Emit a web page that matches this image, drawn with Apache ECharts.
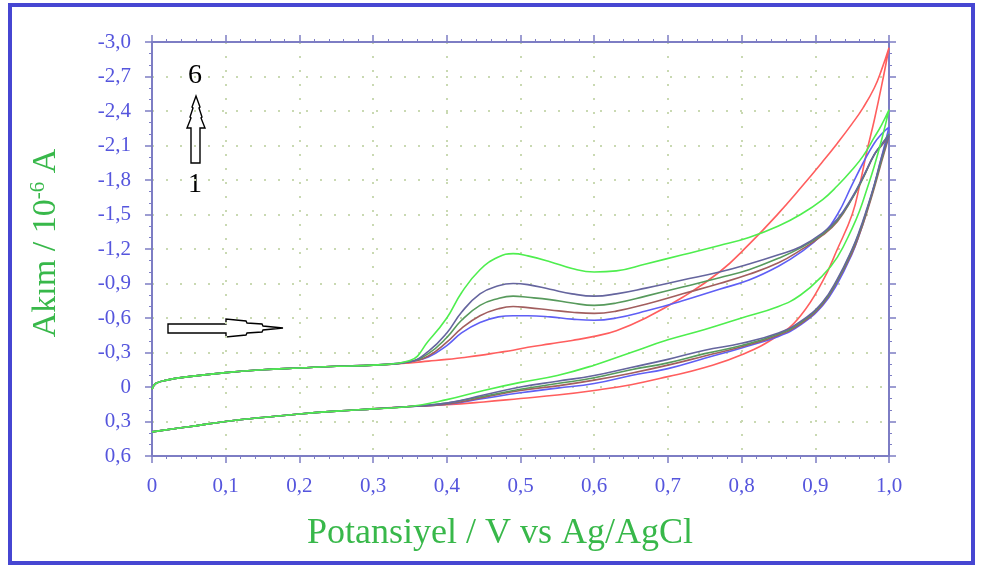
<!DOCTYPE html>
<html>
<head>
<meta charset="utf-8">
<script src="https://cdn.jsdelivr.net/npm/echarts@6/dist/echarts.min.js"></script>
<style>html,body{margin:0;padding:0;background:#fff}#c{width:981px;height:570px}</style>
</head>
<body>
<div id="c"></div>
<script>
// Potential grids (V vs Ag/AgCl)
const vBaseFwd = [0, 0.005, 0.02, 0.05, 0.1, 0.15, 0.2, 0.25, 0.3];
const vFwd = [0.35, 0.375, 0.4, 0.42, 0.445, 0.47, 0.49, 0.51, 0.54, 0.57, 0.6, 0.63, 0.67, 0.72, 0.77, 0.81, 0.85, 0.88, 0.91, 0.93, 0.95, 0.965, 0.98, 0.99, 1.0];
const vRev = [1.0, 0.99, 0.98, 0.97, 0.96, 0.95, 0.93, 0.91, 0.88, 0.85, 0.8, 0.75, 0.7, 0.65, 0.6, 0.55, 0.5, 0.45, 0.4];
const vBaseRev = [0.35, 0.3, 0.25, 0.2, 0.15, 0.1, 0.05, 0];

// Shared current segments (10^-6 A)
const iBaseFwd = [0.02, -0.03, -0.06, -0.09, -0.125, -0.15, -0.165, -0.18, -0.19];
const iBaseRev = [0.17, 0.19, 0.21, 0.235, 0.265, 0.30, 0.345, 0.39];

// Cycle 1 (red)
const red1Fwd = [-0.21, -0.225, -0.24, -0.255, -0.275, -0.30, -0.32, -0.345, -0.375, -0.405, -0.44, -0.49, -0.60, -0.78, -1.0, -1.24, -1.51, -1.73, -1.96, -2.12, -2.29, -2.43, -2.6, -2.76, -2.95];
const red1Rev = [-2.95, -2.62, -2.32, -2.05, -1.75, -1.5, -1.2, -0.92, -0.62, -0.45, -0.28, -0.17, -0.09, -0.02, 0.03, 0.07, 0.10, 0.13, 0.155];
// Cycle 2 (blue)
const blue2Fwd = [-0.22, -0.26, -0.36, -0.47, -0.56, -0.61, -0.62, -0.62, -0.61, -0.59, -0.58, -0.60, -0.66, -0.75, -0.85, -0.93, -1.05, -1.17, -1.33, -1.50, -1.76, -1.95, -2.12, -2.20, -2.26];
const blue2Rev = [-2.26, -2.0, -1.75, -1.53, -1.33, -1.16, -0.90, -0.71, -0.54, -0.44, -0.34, -0.25, -0.16, -0.10, -0.03, 0.01, 0.05, 0.10, 0.15];
// Cycle 3 (brown)
const brown3Fwd = [-0.22, -0.27, -0.39, -0.51, -0.62, -0.68, -0.70, -0.69, -0.67, -0.65, -0.64, -0.66, -0.72, -0.81, -0.90, -0.98, -1.08, -1.19, -1.32, -1.44, -1.64, -1.82, -2.02, -2.10, -2.18];
const brown3Rev = [-2.18, -1.96, -1.73, -1.52, -1.33, -1.17, -0.92, -0.72, -0.55, -0.45, -0.35, -0.27, -0.19, -0.12, -0.06, -0.01, 0.03, 0.09, 0.15];
// Cycle 4 (dark green)
const dkgreen4Fwd = [-0.22, -0.29, -0.43, -0.58, -0.71, -0.77, -0.79, -0.78, -0.76, -0.73, -0.71, -0.73, -0.79, -0.87, -0.95, -1.02, -1.12, -1.21, -1.33, -1.45, -1.64, -1.82, -2.02, -2.11, -2.20];
const dkgreen4Rev = [-2.20, -1.98, -1.75, -1.54, -1.35, -1.19, -0.93, -0.73, -0.56, -0.46, -0.36, -0.29, -0.21, -0.15, -0.08, -0.03, 0.02, 0.08, 0.14];
// Cycle 5 (purple)
const purple5Fwd = [-0.22, -0.31, -0.47, -0.65, -0.81, -0.88, -0.90, -0.89, -0.85, -0.81, -0.79, -0.81, -0.86, -0.93, -1.0, -1.07, -1.15, -1.22, -1.34, -1.46, -1.65, -1.83, -2.02, -2.11, -2.19];
const purple5Rev = [-2.19, -2.0, -1.76, -1.55, -1.36, -1.2, -0.94, -0.74, -0.57, -0.47, -0.38, -0.32, -0.24, -0.17, -0.10, -0.05, 0.0, 0.07, 0.14];
// Cycle 6 (bright green)
const green6Fwd = [-0.23, -0.40, -0.60, -0.82, -1.02, -1.13, -1.16, -1.14, -1.09, -1.03, -1.0, -1.01, -1.07, -1.15, -1.23, -1.30, -1.40, -1.50, -1.63, -1.75, -1.89, -2.01, -2.17, -2.28, -2.41];
const green6Rev = [-2.41, -2.15, -1.92, -1.72, -1.53, -1.38, -1.13, -0.97, -0.80, -0.70, -0.60, -0.50, -0.41, -0.30, -0.19, -0.10, -0.04, 0.03, 0.11];

const xTicks = [0, 0.1, 0.2, 0.3, 0.4, 0.5, 0.6, 0.7, 0.8, 0.9, 1.0];
const yTicks = [-3.0, -2.7, -2.4, -2.1, -1.8, -1.5, -1.2, -0.9, -0.6, -0.3, 0, 0.3, 0.6];

function loop(fwd, rev) {
  const pts = [];
  vBaseFwd.forEach((v, i) => pts.push([v, iBaseFwd[i]]));
  vFwd.forEach((v, i) => pts.push([v, fwd[i]]));
  vRev.forEach((v, i) => pts.push([v, rev[i]]));
  vBaseRev.forEach((v, i) => pts.push([v, iBaseRev[i]]));
  return pts;
}

const curves = [
  {name: '1', fwd: red1Fwd, rev: red1Rev, color: '#ff5e5e'},
  {name: '2', fwd: blue2Fwd, rev: blue2Rev, color: '#5f5ff5'},
  {name: '3', fwd: brown3Fwd, rev: brown3Rev, color: '#a25e5e'},
  {name: '4', fwd: dkgreen4Fwd, rev: dkgreen4Rev, color: '#579a5c'},
  {name: '5', fwd: purple5Fwd, rev: purple5Rev, color: '#65659e'},
  {name: '6', fwd: green6Fwd, rev: green6Rev, color: '#4eee4e'}
];

const fmt = v => {
  const r = Math.round(v * 10) / 10;
  if (r === 0) return '0';
  return r.toFixed(1).replace('.', ',');
};

const axisColor = '#7d7dc4';
const labelColor = '#5555dd';
const serif = '"Liberation Serif", "DejaVu Serif", serif';
const gridLine = {show: true, lineStyle: {color: '#c9d9b2', width: 2, type: [2, 12]}};

const chart = echarts.init(document.getElementById('c'), null, {renderer: 'canvas'});
chart.setOption({
  animation: false,
  backgroundColor: '#ffffff',
  grid: {left: 152, top: 42, right: 92, bottom: 114, containLabel: false},
  xAxis: [{
    type: 'value', position: 'bottom', min: 0, max: 1, interval: 0.1,
    axisLine: {show: true, onZero: false, lineStyle: {color: axisColor, width: 2}},
    axisTick: {show: true, length: 7, lineStyle: {color: axisColor, width: 1.5}},
    minorTick: {show: true, splitNumber: 5, length: 3, lineStyle: {color: axisColor}},
    axisLabel: {color: labelColor, fontFamily: serif, fontSize: 21, margin: 20, formatter: fmt},
    splitLine: gridLine
  }, {
    type: 'value', position: 'top', min: 0, max: 1, interval: 0.1,
    axisLine: {show: true, onZero: false, lineStyle: {color: axisColor, width: 2}},
    axisTick: {show: true, length: 7, lineStyle: {color: axisColor, width: 1.5}},
    minorTick: {show: true, splitNumber: 5, length: 3, lineStyle: {color: axisColor}},
    axisLabel: {show: false}, splitLine: {show: false}
  }],
  yAxis: [{
    type: 'value', position: 'left', inverse: true, min: -3, max: 0.6, interval: 0.3,
    axisLine: {show: true, onZero: false, lineStyle: {color: axisColor, width: 2}},
    axisTick: {show: true, length: 7, lineStyle: {color: axisColor, width: 1.5}},
    minorTick: {show: true, splitNumber: 3, length: 3, lineStyle: {color: axisColor}},
    axisLabel: {color: labelColor, fontFamily: serif, fontSize: 21, margin: 21, formatter: fmt},
    splitLine: gridLine
  }, {
    type: 'value', position: 'right', inverse: true, min: -3, max: 0.6, interval: 0.3,
    axisLine: {show: true, onZero: false, lineStyle: {color: axisColor, width: 2}},
    axisTick: {show: true, length: 7, lineStyle: {color: axisColor, width: 1.5}},
    minorTick: {show: true, splitNumber: 3, length: 3, lineStyle: {color: axisColor}},
    axisLabel: {show: false}, splitLine: {show: false}
  }],
  series: curves.map(c => ({
    name: c.name, type: 'line', xAxisIndex: 0, yAxisIndex: 0,
    data: loop(c.fwd, c.rev), showSymbol: false, smooth: 0.45,
    lineStyle: {color: c.color, width: 1.6}, itemStyle: {color: c.color}
  })),
  graphic: [
    {type: 'rect', shape: {x: 10, y: 5, width: 963, height: 558},
     style: {fill: 'none', stroke: '#4646d2', lineWidth: 4}, silent: true},
    {type: 'text', x: 500, y: 534,
     style: {text: 'Potansiyel / V vs Ag/AgCl', font: '36px ' + serif, fill: '#38b84a', align: 'center', verticalAlign: 'middle'}},
    {type: 'text', x: 46, y: 243, rotation: Math.PI / 2,
     style: {text: 'Akım / 10{sup|-6} A', font: '34px ' + serif, fill: '#38b84a', align: 'center', verticalAlign: 'middle',
       rich: {sup: {fontSize: 21, fontFamily: serif, fill: '#38b84a', padding: [0, 0, 16, 0]}}}},
    {type: 'text', x: 195, y: 76,
     style: {text: '6', font: '28px ' + serif, fill: '#000', align: 'center', verticalAlign: 'middle'}},
    {type: 'text', x: 195, y: 185,
     style: {text: '1', font: '28px ' + serif, fill: '#000', align: 'center', verticalAlign: 'middle'}},
    {type: 'polygon', shape: {points: [[191,163],[200,163],[200,128],[205,128],[201,118],[202,117],[199,108],[200,107],[196,96],[192,107],[193,108],[190,117],[191,118],[187,128],[191,128]]},
     style: {fill: '#fff', stroke: '#000', lineWidth: 1.4}},
    {type: 'polygon', shape: {points: [[168,324],[226,324],[226,319],[246,321],[247,323],[262,324],[263,326],[283,328],[263,330],[262,332],[247,333],[246,335],[226,337],[226,333],[168,333]]},
     style: {fill: '#fff', stroke: '#000', lineWidth: 1.4}}
  ]
});
</script>
</body>
</html>
